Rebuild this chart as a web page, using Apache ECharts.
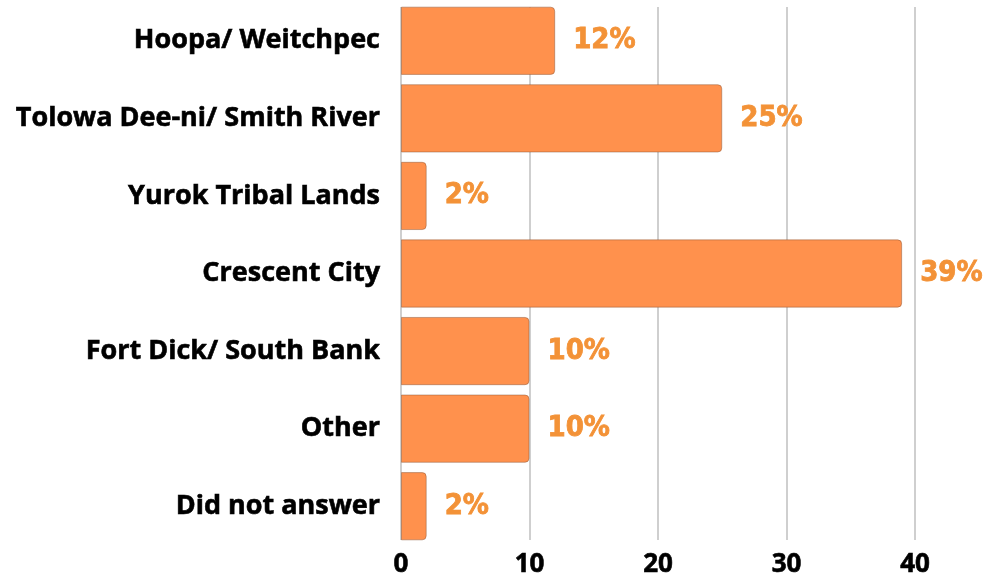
<!DOCTYPE html>
<html>
<head>
<meta charset="utf-8">
<script src="https://cdn.jsdelivr.net/npm/echarts@6/dist/echarts.min.js"></script>
<style>
  html, body { margin: 0; padding: 0; background: #ffffff; }
  #chart { width: 985px; height: 582px; }
</style>
</head>
<body>
<div id="chart"></div>
<script>
// Survey responses by community (percent of respondents)
const categories = [
  'Hoopa/ Weitchpec',
  'Tolowa Dee-ni/ Smith River',
  'Yurok Tribal Lands',
  'Crescent City',
  'Fort Dick/ South Bank',
  'Other',
  'Did not answer'
];
const values = [12, 25, 2, 39, 10, 10, 2];
const axisMin = 0;
const axisMax = 40;
const axisStep = 10;

const barColor = '#FF914D';
const labelColor = '#F39237';
const labelFont = '"Open Sans", "DejaVu Sans", sans-serif';
const valueFont = '"DejaVu Sans Condensed", "DejaVu Sans", sans-serif';

const chart = echarts.init(document.getElementById('chart'), null, { renderer: 'canvas' });

chart.setOption({
  animation: false,
  backgroundColor: '#ffffff',
  grid: [
    // grid carrying the vertical gridlines and the value ticks
    { left: 401, right: 70, top: 7, bottom: 42 },
    // grid carrying the bars and the category names
    { left: 401, right: 70, top: 2, bottom: 37 }
  ],
  xAxis: [
    {
      gridIndex: 0,
      type: 'value',
      min: axisMin,
      max: axisMax,
      interval: axisStep,
      axisLine: { show: false },
      axisTick: { show: false },
      splitLine: { show: true, lineStyle: { color: '#cfcfcf', width: 2 } },
      axisLabel: {
        margin: 12,
        color: '#000000',
        fontFamily: labelFont,
        fontWeight: 'bold',
        fontSize: 26,
        textBorderColor: '#000000',
        textBorderWidth: 0.6
      }
    },
    {
      gridIndex: 1,
      type: 'value',
      min: axisMin,
      max: axisMax,
      show: false
    }
  ],
  yAxis: [
    {
      gridIndex: 0,
      type: 'category',
      inverse: true,
      data: categories,
      show: false
    },
    {
      gridIndex: 1,
      type: 'category',
      inverse: true,
      data: categories,
      axisLine: { show: false },
      axisTick: { show: false },
      splitLine: { show: false },
      axisLabel: {
        margin: 21,
        color: '#000000',
        fontFamily: labelFont,
        fontWeight: 'bold',
        fontSize: 27,
        textBorderColor: '#000000',
        textBorderWidth: 0.6
      }
    }
  ],
  series: [
    {
      type: 'bar',
      xAxisIndex: 1,
      yAxisIndex: 1,
      data: values,
      barCategoryGap: '12%',
      itemStyle: {
        color: barColor,
        borderColor: 'rgba(130,80,50,0.45)',
        borderWidth: 1,
        borderRadius: [0, 4, 4, 0]
      },
      label: {
        show: true,
        position: 'right',
        distance: 18,
        formatter: p => p.value + '%',
        color: labelColor,
        fontFamily: valueFont,
        fontWeight: 'bold',
        fontSize: 29,
        textBorderColor: labelColor,
        textBorderWidth: 0.8
      }
    }
  ]
});
</script>
</body>
</html>
